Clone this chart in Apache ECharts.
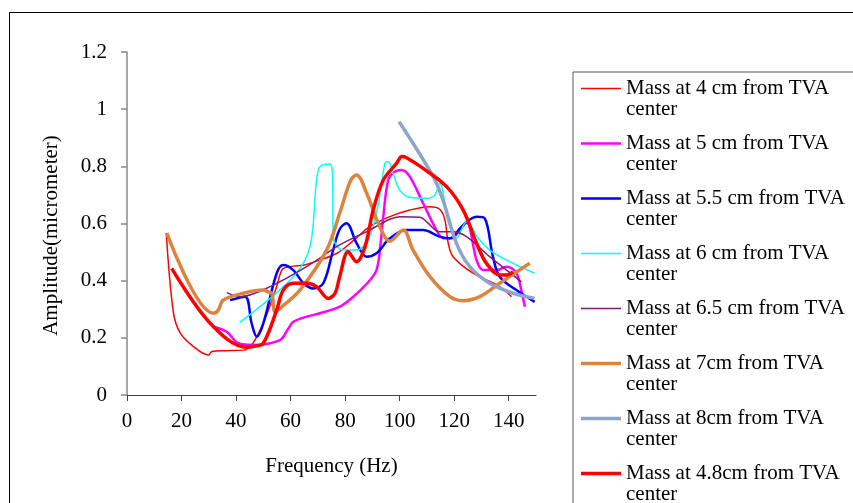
<!DOCTYPE html>
<html>
<head>
<meta charset="utf-8">
<script src="https://cdn.jsdelivr.net/npm/echarts@6/dist/echarts.min.js"></script>
<style>
html, body { margin: 0; padding: 0; background: #fff; }
#main { width: 853px; height: 503px; }
</style>
</head>
<body>
<div id="main"></div>
<script>
var xTicks = [0, 20, 40, 60, 80, 100, 120, 140];

var seriesNames = [
  'Mass at 4 cm from TVA center',
  'Mass at 5 cm from TVA center',
  'Mass at 5.5 cm from TVA center',
  'Mass at 6 cm from TVA center',
  'Mass at 6.5 cm from TVA center',
  'Mass at 7cm from TVA center',
  'Mass at 8cm from TVA center',
  'Mass at 4.8cm from TVA center'
];

// [frequency, amplitude]
var mass4cm = [[14.4,0.567],[17,0.29],[19.5,0.217],[24.4,0.169],[29.9,0.14],[31.1,0.152],[36,0.155],[42.7,0.157],[45.7,0.175],[48.8,0.227],[52,0.3],[54.9,0.38],[57,0.44],[60,0.449],[65,0.455],[70,0.47],[77,0.496],[83,0.54],[89,0.589],[96.4,0.624],[103.7,0.647],[111,0.659],[114.7,0.65],[116.6,0.612],[117.8,0.531],[119.6,0.484],[126.9,0.426],[136.7,0.379],[141,0.344]];
var mass5cm = [[31.7,0.239],[36.6,0.221],[40.8,0.181],[46.3,0.175],[56.1,0.192],[59,0.23],[61,0.256],[65.9,0.274],[70.8,0.286],[78,0.309],[83,0.344],[88,0.39],[91.5,0.437],[93,0.53],[94,0.624],[95.8,0.752],[98,0.78],[100.7,0.787],[103.7,0.764],[108.6,0.671],[113.5,0.577],[116,0.548],[119,0.548],[122,0.577],[124.5,0.606],[128.2,0.472],[130.6,0.437],[135.5,0.437],[139.2,0.449],[142.8,0.426],[144.6,0.367],[145.9,0.309]];
var mass55cm = [[37.8,0.332],[43.3,0.344],[45.7,0.251],[47.6,0.204],[50,0.251],[54.9,0.426],[57.3,0.455],[61,0.437],[64.7,0.391],[68.3,0.373],[72,0.391],[75.6,0.507],[78,0.58],[80.5,0.601],[84.2,0.531],[87.9,0.484],[91.5,0.496],[96.4,0.548],[102.5,0.577],[108.6,0.577],[114.7,0.554],[118.4,0.548],[122.7,0.589],[128.2,0.624],[131.2,0.618],[134.2,0.484],[136.7,0.414],[142.8,0.367],[149.5,0.326]];
var mass6cm = [[41.3,0.254],[61,0.414],[67.1,0.519],[69.5,0.752],[70.8,0.799],[74.4,0.808],[75.4,0.764],[75.6,0.554],[79.3,0.507],[84.2,0.507],[89,0.554],[92.7,0.694],[94.6,0.811],[95.8,0.816],[97.6,0.776],[100,0.717],[103.7,0.692],[109.8,0.688],[112.9,0.7],[114.7,0.741],[118,0.6],[121,0.55],[124.5,0.606],[129.3,0.542],[133,0.507],[139.2,0.472],[149.5,0.426]];
var mass65cm = [[36.6,0.358],[41.5,0.344],[52.5,0.379],[65.9,0.449],[78,0.525],[89,0.577],[96.4,0.615],[100,0.624],[107.4,0.622],[109.9,0.606],[114.7,0.571],[119.6,0.571],[124.5,0.554],[133,0.484],[139.2,0.437],[144.6,0.396]];
var mass7cm = [[14.6,0.566],[31.7,0.286],[33.5,0.297],[35.3,0.332],[42.7,0.356],[50,0.367],[51.8,0.361],[53.1,0.356],[54.3,0.291],[56.1,0.303],[63.4,0.367],[73.2,0.507],[78,0.636],[82,0.75],[84.2,0.77],[87.9,0.706],[92.7,0.589],[96.4,0.538],[101.3,0.577],[104.9,0.507],[111.1,0.414],[118.4,0.344],[123.3,0.33],[129.4,0.344],[136.7,0.391],[147.7,0.461]];
var mass8cm = [[99.8,0.956],[112.3,0.764],[115.9,0.682],[120.8,0.531],[125.7,0.449],[133,0.391],[141.6,0.356],[149.5,0.338]];
var mass48cm = [[16.4,0.443],[30.5,0.251],[43.9,0.167],[47,0.171],[50,0.181],[54.9,0.297],[57.3,0.367],[61,0.391],[65.9,0.391],[69.5,0.379],[73.8,0.338],[76.3,0.356],[78,0.414],[81.1,0.501],[84.2,0.466],[87.3,0.519],[90.3,0.647],[94,0.752],[98.9,0.811],[100.8,0.834],[102.5,0.83],[108.6,0.793],[117.2,0.729],[123.3,0.647],[128.2,0.531],[131.8,0.461],[136.7,0.42],[139.2,0.42],[141.6,0.431]];

var seriesData = [mass4cm, mass5cm, mass55cm, mass6cm, mass65cm, mass7cm, mass8cm, mass48cm];
var colors = ['#FF0000', '#FF00FF', '#0000FF', '#00FFFF', '#7F1A7F', '#DB843D', '#8EA5CB', '#FF0000'];
var widths = [1.5, 2.5, 2.5, 1.5, 1.5, 3.5, 3.5, 3.5];

var font = "'Liberation Serif', 'Times New Roman', serif";

// legend line sits next to the first text line
function legendIcon(w) {
  var a = 10.5 - w / 2, b = 10.5 + w / 2;
  return 'path://M0,0L0.01,0L0.01,0.01Z M0,' + a + 'L40,' + a + 'L40,' + b + 'L0,' + b + 'Z M0,42L0.01,42L0.01,41.99Z';
}

var myChart = echarts.init(document.getElementById('main'));

var option = {
  animation: false,
  backgroundColor: '#fff',
  graphic: [{
    type: 'rect',
    shape: { x: 9.5, y: 12.5, width: 1000, height: 1000 },
    style: { fill: 'none', stroke: '#000', lineWidth: 1 },
    silent: true
  }],
  grid: {
    left: 127, right: 317, top: 52, bottom: 108,
    outerBoundsMode: 'none'
  },
  legend: {
    orient: 'vertical',
    left: 573, top: 72,
    width: 300, height: 520,
    padding: [6, 40, 10, 8],
    itemWidth: 40, itemHeight: 42, itemGap: 13,
    borderColor: '#555', borderWidth: 1,
    itemStyle: { borderWidth: 0 },
    data: seriesNames.map(function (n, i) {
      return { name: n, icon: legendIcon(widths[i]) };
    }),
    formatter: function (name) {
      return name.replace(' center', '\ncenter');
    },
    textStyle: { fontFamily: font, fontSize: 21, lineHeight: 21, color: '#000' },
    selectedMode: false
  },
  xAxis: {
    type: 'value',
    min: 0, max: 150, interval: 20,
    name: 'Frequency (Hz)',
    nameLocation: 'middle',
    nameGap: 61,
    nameTextStyle: { fontFamily: font, fontSize: 21, color: '#000' },
    axisLine: { lineStyle: { color: '#404040', width: 1 } },
    axisTick: { show: true, length: 6, customValues: xTicks, lineStyle: { color: '#404040' } },
    axisLabel: { customValues: xTicks, margin: 16, fontFamily: font, fontSize: 21, color: '#000' },
    splitLine: { show: false }
  },
  yAxis: {
    type: 'value',
    min: 0, max: 1.2, interval: 0.2,
    name: 'Amplitude(micrometer)',
    nameLocation: 'middle',
    nameGap: 65,
    nameTextStyle: { fontFamily: font, fontSize: 21, color: '#000', padding: [0, 24, 0, 0] },
    axisLine: { show: true, lineStyle: { color: '#898989', width: 1.5 } },
    axisTick: { show: true, length: 6, lineStyle: { color: '#898989', width: 1.5 } },
    axisLabel: { margin: 20, fontFamily: font, fontSize: 21, color: '#000' },
    splitLine: { show: false }
  },
  series: seriesNames.map(function (n, i) {
    return {
      name: n,
      type: 'line',
      data: seriesData[i],
      smooth: 0.35,
      symbol: 'none',
      showSymbol: false,
      color: colors[i],
      lineStyle: { color: colors[i], width: widths[i] },
      emphasis: { disabled: true }
    };
  })
};

myChart.setOption(option);
</script>
</body>
</html>
